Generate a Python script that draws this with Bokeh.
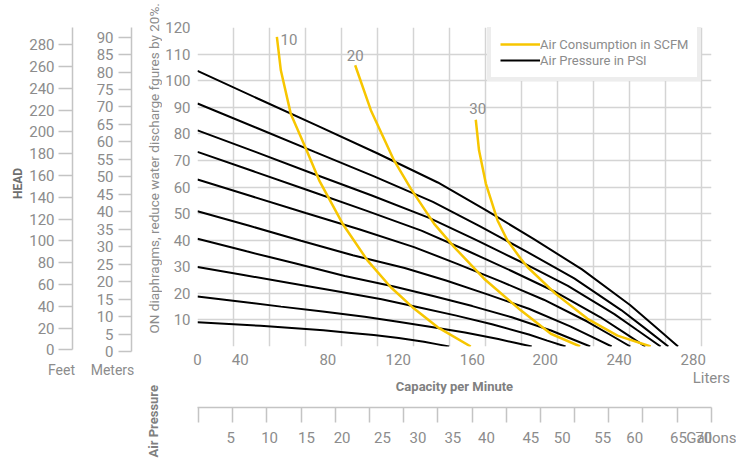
from math import pi
from bokeh.plotting import figure
from bokeh.models import FixedTicker, Label, Legend, LegendItem, Range1d, LinearAxis
from bokeh.layouts import row, column
from bokeh.embed import file_html
from bokeh.resources import INLINE
from bokeh.core.properties import value

FONT = "Roboto"
GRAY = "#8c8c8c"
YELLOW = "#f7c600"
AXIS_GRAY = "#c4c4c4"

# ---------------- data ----------------
# Air pressure curves (PSI): capacity (liters/min) vs head (psi scale)
psi_x = [
    [0, 33.4, 66.8, 100.1, 133.5, 160.2, 186.9, 213.6, 240.3, 253.7, 267.0],
    [0, 32.7, 65.4, 98.1, 130.8, 157.0, 183.1, 209.3, 235.4, 248.5, 261.6],
    [0, 32.2, 64.3, 96.5, 128.7, 154.4, 180.1, 205.8, 231.6, 244.4, 257.3],
    [0, 31.1, 62.2, 93.3, 124.4, 149.3, 174.2, 199.0, 223.9, 236.4, 248.8],
    [0, 30.1, 60.1, 90.2, 120.3, 144.3, 168.4, 192.4, 216.5, 228.5, 240.5],
    [0, 28.8, 57.5, 86.3, 115.1, 138.1, 161.1, 184.1, 207.1, 218.6, 230.1],
    [0, 27.3, 54.6, 81.8, 109.1, 130.9, 152.7, 174.6, 196.4, 207.3, 218.2],
    [0, 25.6, 51.1, 76.7, 102.3, 122.7, 143.2, 163.6, 184.1, 194.3, 204.5],
    [0, 23.2, 46.4, 69.6, 92.9, 111.4, 130.0, 148.6, 167.1, 176.4, 185.7],
    [0, 17.5, 35.0, 52.4, 69.9, 83.9, 97.9, 111.8, 125.8, 132.8, 139.8],
]
psi_y = [
    [103.7, 93.3, 83.0, 72.6, 61.7, 51.3, 40.4, 29.0, 15.6, 7.8, 0],
    [91.4, 82.3, 73.1, 64.0, 54.4, 45.2, 35.6, 25.6, 13.7, 6.9, 0],
    [81.3, 73.2, 65.0, 56.9, 48.4, 40.2, 31.7, 22.8, 12.2, 6.1, 0],
    [73.2, 65.9, 58.6, 51.2, 43.6, 36.2, 28.5, 20.5, 11.0, 5.5, 0],
    [62.8, 56.5, 50.2, 44.0, 37.4, 31.1, 24.5, 17.6, 9.4, 4.7, 0],
    [50.9, 45.4, 39.8, 34.3, 29.5, 24.8, 19.6, 14.2, 7.6, 3.8, 0],
    [40.5, 35.8, 31.2, 26.5, 22.6, 19.0, 15.2, 11.0, 6.0, 3.0, 0],
    [29.9, 26.9, 23.9, 20.9, 17.8, 14.8, 11.7, 8.4, 4.5, 2.2, 0],
    [18.8, 16.9, 15.0, 13.2, 11.2, 9.3, 7.3, 5.3, 2.8, 1.4, 0],
    [9.1, 8.5, 7.8, 7.0, 6.1, 5.2, 4.3, 3.2, 1.8, 0.9, 0],
]
# Air consumption curves (SCFM)
scfm_labels = ["10", "20", "30"]
scfm_x = [
    [44.1, 46.3, 51.8, 60.2, 67.6, 80.6, 94.4, 107.4, 119.4, 133.3, 151.8],
    [87.6, 96.3, 109.2, 118.5, 131.4, 142.6, 159.2, 179.6, 196.3, 212.6],
    [154.6, 156.4, 160.2, 166.7, 172.2, 179.6, 183.3, 199.0, 216.7, 233.3, 251.8],
]
scfm_y = [
    [116.5, 103.9, 87.6, 74.5, 62.5, 46.2, 32.4, 22.3, 14.8, 7.3, 0],
    [105.8, 88.9, 70.0, 59.4, 46.2, 37.4, 25.5, 13.6, 4.8, 0],
    [85.3, 73.8, 61.3, 47.4, 39.9, 33.0, 29.9, 19.8, 10.4, 4.1, 0],
]
label_dx = [12, 0, 2]
label_dy = [3, -10, -11]

liter_labels = ["0", "40", "80", "120", "160", "200", "240", "280"]
liter_label_pos = [0, 23.7, 72.4, 111.5, 152.7, 193.2, 234.2, 275.4]
liter_unit = "Liters"
liter_unit_pos = 285.5
liter_grid = list(range(0, 281, 20))
psi_ticks = list(range(10, 121, 10))
psi_grid = list(range(0, 121, 10))
feet_ticks = list(range(0, 281, 20))
meter_ticks = list(range(0, 91, 5))
gallon_labels = ["5", "10", "15", "20", "25", "30", "35", "40", "45", "50", "55", "60", "65", "70"]
gallon_label_pos = [4.7, 10.4, 15.8, 21.0, 26.9, 32.1, 37.2, 42.1, 48.6, 53.2, 59.1, 63.8, 70.2, 73.9]
gallon_unit = "Gallons"
gallon_unit_pos = 75
gallon_marks = list(range(0, 76, 5))


def style_ticks_text(ax, size="15px"):
    ax.major_label_text_font = FONT
    ax.major_label_text_font_size = size
    ax.major_label_text_color = GRAY


def text_label(x, y, text, size="14px", bold=False, color=GRAY, angle=0.0, align="center"):
    return Label(x=x, y=y, x_units="screen", y_units="screen", text=text, angle=angle,
                 text_align=align, text_baseline="middle", text_font=FONT,
                 text_font_size=size, text_font_style="bold" if bold else "normal",
                 text_color=color)


def bare(fig):
    fig.grid.visible = False
    fig.outline_line_color = None
    fig.min_border_left = 0
    fig.min_border_right = 0
    fig.min_border_top = 0
    fig.min_border_bottom = 0


# ---------------- Left strip: Feet / Meters scales and vertical titles ----------------
L = figure(width=162, height=459, x_range=Range1d(0, 162), y_range=Range1d(0, 459),
           x_axis_location=None, y_axis_location=None,
           output_backend="svg", toolbar_location=None)
bare(L)
L.extra_y_ranges = {"feet": Range1d(-100.46, 320.64), "meters": Range1d(-30.92, 100.49)}

feet_axis = LinearAxis(y_range_name="feet", fixed_location=72, bounds=(0, 295.6),
                       ticker=FixedTicker(ticks=feet_ticks))
meter_axis = LinearAxis(y_range_name="meters", fixed_location=131, bounds=(0, 92.7),
                        ticker=FixedTicker(ticks=meter_ticks))
for ax, tick_len, standoff in ((feet_axis, 14, 4), (meter_axis, 13, 5)):
    ax.minor_tick_line_color = None
    ax.major_tick_out = tick_len
    ax.major_tick_in = 0
    ax.major_label_standoff = standoff
    ax.axis_line_color = AXIS_GRAY
    ax.axis_line_width = 1.5
    ax.major_tick_line_color = AXIS_GRAY
    ax.major_tick_line_width = 1.5
    style_ticks_text(ax)
    L.add_layout(ax, "left")

L.add_layout(text_label(17, 276, "HEAD", size="12px", bold=True, color="#6e6e6e", angle=pi / 2))
L.add_layout(text_label(61, 90, "Feet"))
L.add_layout(text_label(112, 90, "Meters"))
L.add_layout(text_label(153, 126, "ON diaphragms, reduce water discharge fgures by 20%.",
                        size="13.5px", angle=pi / 2, align="left"))
L.add_layout(text_label(153, 2, "Air Pressure", size="13px", bold=True, color="#808080",
                        angle=pi / 2, align="left"))

# ---------------- Main chart ----------------
p = figure(frame_width=514, frame_height=319, min_border_left=35, min_border_right=25,
           min_border_top=27, min_border_bottom=60, x_range=Range1d(0, 285.56),
           y_range=Range1d(0, 120), output_backend="svg", toolbar_location=None)
p.outline_line_color = None
p.xgrid.ticker = FixedTicker(ticks=liter_grid)
p.ygrid.ticker = FixedTicker(ticks=psi_grid)
p.grid.grid_line_color = "#d4d4d4"
p.grid.grid_line_width = 1.5

xa = p.xaxis[0]
xa.ticker = FixedTicker(ticks=liter_label_pos + [liter_unit_pos])
overrides = {pos: lab for pos, lab in zip(liter_label_pos, liter_labels)}
overrides[liter_unit_pos] = "\n" + liter_unit
xa.major_label_overrides = overrides
xa.axis_line_color = None
xa.major_tick_line_color = None
xa.minor_tick_line_color = None
xa.major_tick_out = 0
xa.minor_tick_out = 0
xa.major_label_standoff = 4
style_ticks_text(xa)
xa.major_label_text_line_height = 1.0
xa.axis_label = "Capacity per Minute"
xa.axis_label_text_font = FONT
xa.axis_label_text_font_size = "13px"
xa.axis_label_text_font_style = "bold"
xa.axis_label_text_color = "#808080"
xa.axis_label_standoff = -11

ya = p.yaxis[0]
ya.ticker = FixedTicker(ticks=psi_ticks)
ya.axis_line_color = None
ya.major_tick_line_color = None
ya.minor_tick_line_color = None
ya.major_tick_out = 0
ya.minor_tick_out = 0
ya.major_label_standoff = 7
style_ticks_text(ya)

black_renderers = []
for xs, ys in zip(psi_x, psi_y):
    black_renderers.append(p.line(xs, ys, line_color="black", line_width=2))
yellow_renderers = []
for xs, ys in zip(scfm_x, scfm_y):
    yellow_renderers.append(p.line(xs, ys, line_color=YELLOW, line_width=2.5))

p.text(x=[xs[0] for xs in scfm_x], y=[ys[0] for ys in scfm_y], text=scfm_labels,
       x_offset=label_dx, y_offset=label_dy, text_align="center", text_baseline="middle",
       text_font=value(FONT), text_font_size="15px", text_color=GRAY)

legend = Legend(items=[LegendItem(label="Air Consumption in SCFM", renderers=[yellow_renderers[0]]),
                       LegendItem(label="Air Pressure in PSI", renderers=[black_renderers[0]])],
                location=(290, 265))
legend.margin = 0
legend.padding = 9
legend.spacing = 0
legend.glyph_width = 40
legend.glyph_height = 16
legend.label_height = 16
legend.label_standoff = 0
legend.label_text_font = FONT
legend.label_text_font_size = "13px"
legend.label_text_color = GRAY
legend.border_line_color = "#dcdcdc"
legend.border_line_width = 4
legend.background_fill_alpha = 1
p.add_layout(legend)

# ---------------- Bottom strip: Gallons scale ----------------
G = figure(frame_width=514, frame_height=1, x_range=Range1d(-0.146, 75.02), y_range=Range1d(0, 1),
           x_axis_location="below", y_axis_location=None,
           output_backend="svg", toolbar_location=None)
G.grid.visible = False
G.outline_line_color = None
G.min_border_left = 35
G.min_border_right = 25
G.min_border_top = 0
G.min_border_bottom = 52
ga = G.xaxis[0]
ga.ticker = FixedTicker(ticks=gallon_label_pos + [gallon_unit_pos], minor_ticks=gallon_marks)
g_over = {pos: lab for pos, lab in zip(gallon_label_pos, gallon_labels)}
g_over[gallon_unit_pos] = gallon_unit
ga.major_label_overrides = g_over
ga.major_tick_line_color = None
ga.major_tick_out = 0
ga.major_tick_in = 0
ga.minor_tick_out = 15
ga.minor_tick_in = 0
ga.minor_tick_line_color = AXIS_GRAY
ga.minor_tick_line_width = 1.5
ga.axis_line_color = AXIS_GRAY
ga.axis_line_width = 1.5
ga.major_label_standoff = 6
style_ticks_text(ga)

layout = row(L, column(p, G))
open("out.html", "w").write(file_html(layout, INLINE))
